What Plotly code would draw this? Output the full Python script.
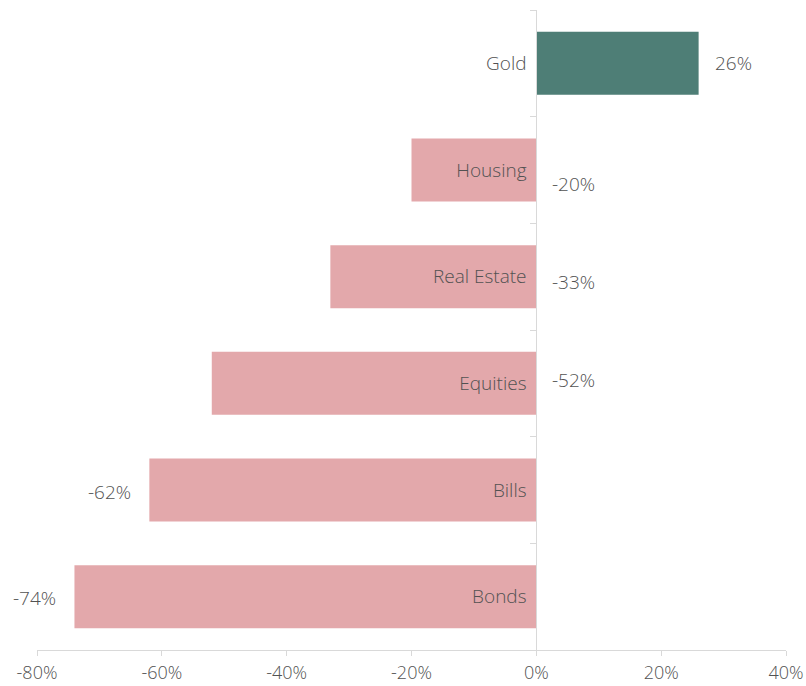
import plotly.graph_objects as go

# Asset class performance
categories = ["Gold", "Housing", "Real Estate", "Equities", "Bills", "Bonds"]
values = [26, -20, -33, -52, -62, -74]
x_ticks = [-80, -60, -40, -20, 0, 20, 40]

# Value label placement per bar: "end" = beyond the bar end, "axis" = right of zero line
label_mode = ["end", "axis", "axis", "axis", "end", "end"]
label_yshift = [0, -14, -5, 3, -2, -1]

POS_COLOR = "#4e7e76"
NEG_COLOR = "#e3a8ab"
TEXT_COLOR = "#525252"
AXIS_COLOR = "#d9d9d9"
FONT = "Open Sans"
FONT_SIZE = 19
FONT_WEIGHT = 300

x_min, x_max = x_ticks[0], x_ticks[-1]
label_font = dict(family=FONT, size=FONT_SIZE, color=TEXT_COLOR, weight=FONT_WEIGHT)
tick_font = dict(family=FONT, size=18, color=TEXT_COLOR, weight=FONT_WEIGHT)

fig = go.Figure()
fig.add_trace(go.Bar(
    y=categories,
    x=values,
    orientation="h",
    width=0.59,
    marker=dict(color=[POS_COLOR if v >= 0 else NEG_COLOR for v in values], line=dict(width=0)),
    hoverinfo="skip",
    showlegend=False,
))

annotations = []
for cat, val, mode, ys in zip(categories, values, label_mode, label_yshift):
    text = f"{val}%"
    if mode == "axis":
        annotations.append(dict(x=0, y=cat, text=text, xanchor="left", xshift=14, yshift=ys,
                                showarrow=False, font=label_font))
    elif val >= 0:
        annotations.append(dict(x=val, y=cat, text=text, xanchor="left", xshift=14, yshift=ys,
                                showarrow=False, font=label_font))
    else:
        annotations.append(dict(x=val, y=cat, text=text, xanchor="right", xshift=-16, yshift=ys,
                                showarrow=False, font=label_font))

fig.update_layout(
    width=806,
    height=686,
    margin=dict(l=37, r=20, t=10, b=36),
    paper_bgcolor="white",
    plot_bgcolor="white",
    font=dict(family=FONT, size=FONT_SIZE, color=TEXT_COLOR),
    annotations=annotations,
    xaxis=dict(
        range=[x_min, x_max],
        tickvals=x_ticks,
        ticktext=[f"{t}%" for t in x_ticks],
        showgrid=False,
        zeroline=False,
        showline=True,
        linecolor=AXIS_COLOR,
        linewidth=1,
        ticks="outside",
        ticklen=5,
        tickcolor=AXIS_COLOR,
        ticklabelstandoff=1,
        automargin=False,
        tickfont=tick_font,
    ),
    yaxis=dict(
        categoryorder="array",
        categoryarray=categories,
        autorange="reversed",
        anchor="free",
        position=(0 - x_min) / (x_max - x_min),
        showgrid=False,
        zeroline=False,
        showline=True,
        linecolor=AXIS_COLOR,
        linewidth=1,
        ticks="outside",
        tickson="boundaries",
        ticklen=6,
        tickcolor=AXIS_COLOR,
        ticklabelstandoff=6,
        automargin=False,
        tickfont=label_font,
    ),
)

fig.write_html("out.html")
